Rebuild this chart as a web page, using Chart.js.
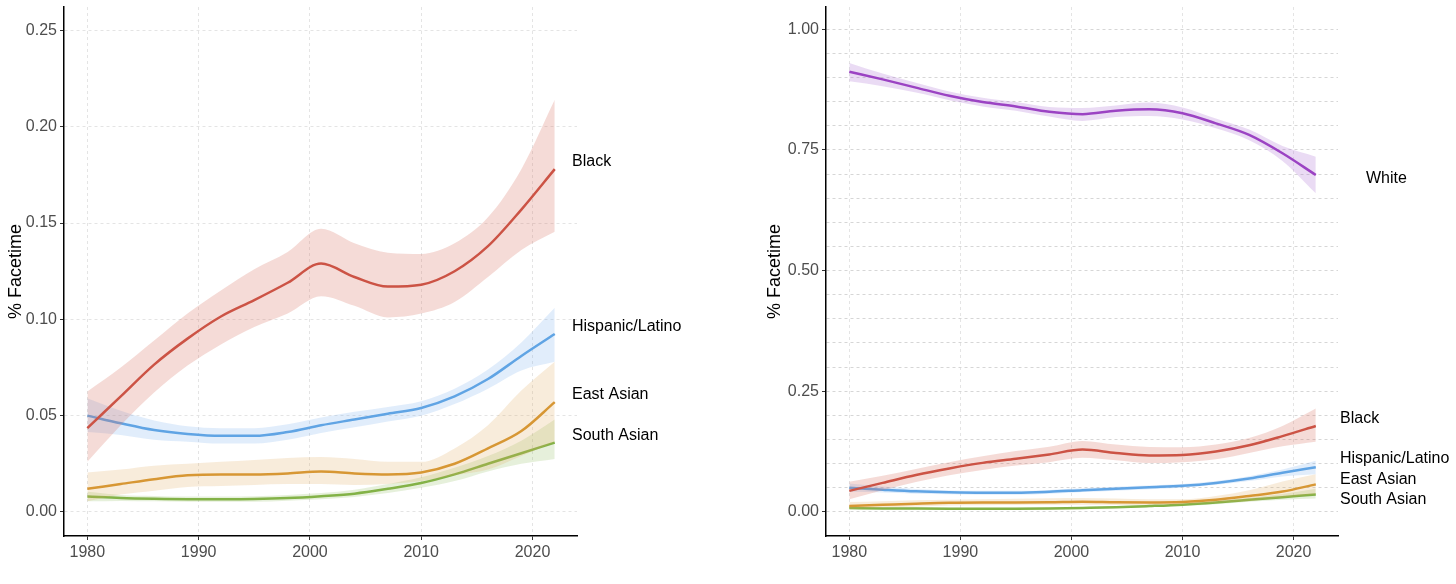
<!DOCTYPE html>
<html>
<head>
<meta charset="utf-8">
<script src="https://cdn.jsdelivr.net/npm/chart.js@4"></script>
<style>
  body { margin: 0; background: #fff; }
  .wrap { position: absolute; top: 0; width: 728px; height: 584px; }
  #left { left: 0; }
  #right { left: 728px; }
</style>
</head>
<body>
<div class="wrap" id="left"><canvas id="chartLeft" width="728" height="584"></canvas></div>
<div class="wrap" id="right"><canvas id="chartRight" width="728" height="584"></canvas></div>
<script>
const years = [1980, 1983, 1986, 1989, 1992, 1995, 1998, 2001, 2004, 2007, 2010, 2013, 2016, 2019, 2022];

const black    = [0.0435, 0.060, 0.0765, 0.090, 0.1015, 0.110, 0.119, 0.129, 0.122, 0.117, 0.118, 0.125, 0.138, 0.157, 0.178];
const blackHi  = [0.0625, 0.075, 0.089, 0.103, 0.115, 0.126, 0.135, 0.147, 0.1395, 0.1346, 0.134, 0.1395, 0.153, 0.178, 0.214];
const blackLo  = [0.026, 0.045, 0.062, 0.076, 0.087, 0.096, 0.103, 0.112, 0.107, 0.101, 0.103, 0.109, 0.122, 0.136, 0.1455];

const hisp     = [0.050, 0.046, 0.0425, 0.0405, 0.0395, 0.0395, 0.0415, 0.045, 0.048, 0.051, 0.054, 0.060, 0.069, 0.081, 0.0924];
const hispHi   = [0.059, 0.0525, 0.0475, 0.0445, 0.0435, 0.0435, 0.0455, 0.049, 0.052, 0.0545, 0.0575, 0.064, 0.074, 0.088, 0.106];
const hispLo   = [0.0415, 0.040, 0.0375, 0.0365, 0.0355, 0.0355, 0.0375, 0.041, 0.044, 0.047, 0.050, 0.056, 0.064, 0.0735, 0.078];

const east     = [0.012, 0.0145, 0.017, 0.019, 0.0195, 0.0195, 0.020, 0.021, 0.020, 0.0195, 0.0205, 0.025, 0.033, 0.042, 0.057];
const eastHi   = [0.0205, 0.022, 0.024, 0.025, 0.026, 0.027, 0.028, 0.0285, 0.0275, 0.026, 0.026, 0.033, 0.045, 0.063, 0.078];
const eastLo   = [0.0055, 0.009, 0.011, 0.013, 0.0135, 0.014, 0.0145, 0.0145, 0.014, 0.0145, 0.016, 0.019, 0.022, 0.029, 0.0365];

const south    = [0.008, 0.0072, 0.0068, 0.0066, 0.0066, 0.0067, 0.0072, 0.0082, 0.0095, 0.012, 0.015, 0.0195, 0.025, 0.0305, 0.036];
const southHi  = [0.0105, 0.0088, 0.0083, 0.008, 0.008, 0.0082, 0.0088, 0.0098, 0.0115, 0.0145, 0.018, 0.023, 0.029, 0.037, 0.048];
const southLo  = [0.0055, 0.0057, 0.0055, 0.0053, 0.0053, 0.0053, 0.0058, 0.0066, 0.0078, 0.0098, 0.0125, 0.016, 0.021, 0.025, 0.0275];

const white    = [0.912, 0.896, 0.879, 0.862, 0.849, 0.840, 0.829, 0.824, 0.831, 0.834, 0.826, 0.805, 0.781, 0.743, 0.698];
const whiteHi  = [0.930, 0.908, 0.889, 0.871, 0.858, 0.849, 0.839, 0.837, 0.842, 0.848, 0.838, 0.815, 0.792, 0.758, 0.736];
const whiteLo  = [0.892, 0.882, 0.869, 0.853, 0.840, 0.831, 0.819, 0.810, 0.818, 0.820, 0.813, 0.795, 0.770, 0.727, 0.660];

const leftTicks = [0, 0.05, 0.10, 0.15, 0.20, 0.25];
const rightTicks = [0, 0.25, 0.50, 0.75, 1.00];

const FONT = "'Liberation Sans', Arial, sans-serif";

function pts(arr) {
    return years.map((yr, i) => ({ x: yr, y: arr[i] }));
}

// band (hi filled down to lo) + the line on top
function series(name, mid, hi, lo, color, band, dx, dy) {
    return [
        { data: pts(hi), borderWidth: 0, pointRadius: 0, fill: '+1', backgroundColor: band, cubicInterpolationMode: 'monotone' },
        { data: pts(lo), borderWidth: 0, pointRadius: 0, fill: false, cubicInterpolationMode: 'monotone' },
        { label: name, data: pts(mid), borderColor: color, borderWidth: 2.5, pointRadius: 0, fill: false,
          cubicInterpolationMode: 'monotone', endLabel: { dx: dx, dy: dy } }
    ];
}

const endLabels = {
    id: 'endLabels',
    afterDatasetsDraw(chart) {
        const ctx = chart.ctx;
        const area = chart.chartArea;
        ctx.save();
        ctx.font = '16px ' + FONT;
        ctx.fillStyle = '#000';
        ctx.textBaseline = 'middle';
        ctx.textAlign = 'left';
        chart.data.datasets.forEach(ds => {
            if (!ds.endLabel) return;
            const last = ds.data[ds.data.length - 1];
            const y = chart.scales.y.getPixelForValue(last.y) + ds.endLabel.dy;
            ctx.fillText(ds.label, area.right + ds.endLabel.dx, y);
        });
        ctx.restore();
    }
};

function makeChart(canvas, datasets, yMin, yMax, yStep, labelled, yWidth, titlePad, padRight, gridColor) {
    return new Chart(canvas, {
        type: 'line',
        data: { datasets: datasets },
        options: {
            responsive: false,
            animation: false,
            layout: { padding: { top: 7, right: padRight, left: 0, bottom: 0 } },
            plugins: { legend: { display: false }, tooltip: { enabled: false } },
            scales: {
                x: {
                    type: 'linear',
                    min: 1977.9,
                    max: 2024,
                    afterFit: s => { s.height = 48; s.paddingLeft = 0; s.paddingRight = 0; },
                    ticks: {
                        stepSize: 10,
                        includeBounds: false,
                        color: '#4d4d4d',
                        padding: 3,
                        font: { family: FONT, size: 16 },
                        callback: v => String(v)
                    },
                    grid: { color: '#e4e4e4', tickColor: '#333', tickLength: 4, lineWidth: 1 },
                    border: { display: true, color: '#000', width: 1.5, dash: [3, 3] }
                },
                y: {
                    min: yMin,
                    max: yMax,
                    afterFit: s => { s.width = yWidth; s.paddingTop = 0; s.paddingBottom = 0; },
                    afterBuildTicks: s => {
                        const list = [];
                        for (let v = 0; v <= yMax + 1e-9; v += yStep) list.push({ value: Math.round(v * 100) / 100 });
                        s.ticks = list;
                    },
                    ticks: {
                        color: '#4d4d4d',
                        padding: 3,
                        autoSkip: false,
                        font: { family: FONT, size: 16 },
                        callback: v => labelled.some(t => Math.abs(t - v) < 1e-6) ? v.toFixed(2) : ''
                    },
                    grid: {
                        color: gridColor,
                        tickLength: 4,
                        tickColor: c => labelled.some(t => Math.abs(t - c.tick.value) < 1e-6) ? '#333' : 'rgba(0,0,0,0)'
                    },
                    border: { display: true, color: '#000', width: 1.5, dash: [3, 3] },
                    title: {
                        display: true,
                        text: '% Facetime',
                        color: '#000',
                        font: { family: FONT, size: 18 },
                        padding: { top: titlePad, bottom: 0 }
                    }
                }
            }
        },
        plugins: [endLabels]
    });
}

const leftSets = [].concat(
    series('Black', black, blackHi, blackLo, 'rgb(200,74,60)', 'rgba(215,110,95,0.25)', -5, -8),
    series('East Asian', east, eastHi, eastLo, 'rgb(213,146,42)', 'rgba(225,170,90,0.22)', -5, -8),
    series('Hispanic/Latino', hisp, hispHi, hispLo, 'rgb(90,162,226)', 'rgba(120,175,235,0.22)', -5, -7),
    series('South Asian', south, southHi, southLo, 'rgb(128,176,66)', 'rgba(140,185,90,0.22)', -5, -7)
);

const rightSets = [].concat(
    series('White', white, whiteHi, whiteLo, 'rgb(150,52,190)', 'rgba(170,110,210,0.25)', 28, 4),
    series('Black', black, blackHi, blackLo, 'rgb(200,74,60)', 'rgba(215,110,95,0.25)', 2, -7),
    series('East Asian', east, eastHi, eastLo, 'rgb(213,146,42)', 'rgba(225,170,90,0.22)', 2, -5),
    series('Hispanic/Latino', hisp, hispHi, hispLo, 'rgb(90,162,226)', 'rgba(120,175,235,0.22)', 2, -9),
    series('South Asian', south, southHi, southLo, 'rgb(128,176,66)', 'rgba(140,185,90,0.22)', 2, 5)
);

makeChart(document.getElementById('chartLeft'), leftSets, -0.0125, 0.2622, 0.05, leftTicks, 64, 5, 151, '#e4e4e4');
makeChart(document.getElementById('chartRight'), rightSets, -0.05, 1.046, 0.05, rightTicks, 98, 36, 118, '#d6d6d6');
</script>
</body>
</html>
